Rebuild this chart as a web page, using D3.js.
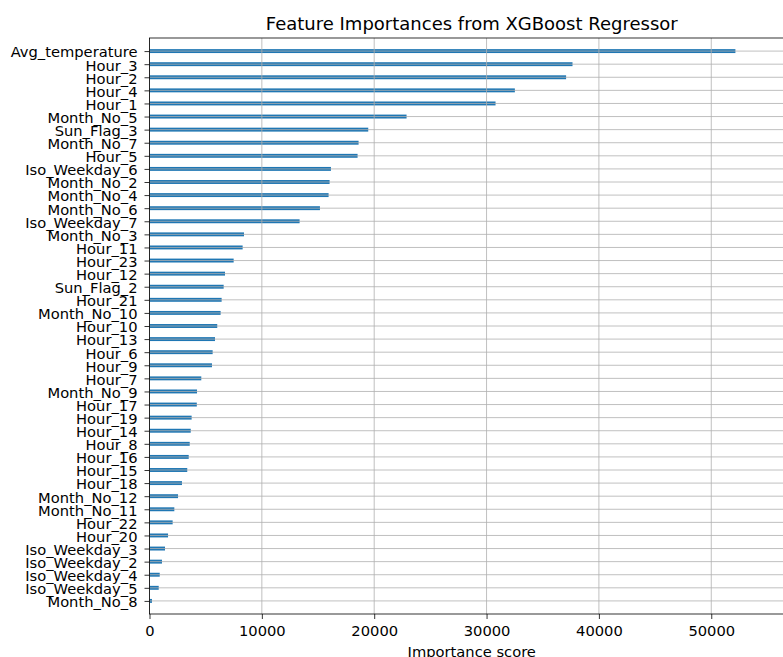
<!DOCTYPE html>
<html>
<head>
<meta charset="utf-8">
<script src="https://cdn.jsdelivr.net/npm/d3@7"></script>
<style>
  html, body { margin: 0; padding: 0; background: #fff; }
  svg { display: block; font-family: "DejaVu Sans", sans-serif; }
</style>
</head>
<body>
<svg id="chart" width="783" height="657"></svg>
<script>
// Feature names, listed from most to least important (top to bottom)
const features = [
  "Avg_temperature", "Hour_3", "Hour_2", "Hour_4", "Hour_1", "Month_No_5",
  "Sun_Flag_3", "Month_No_7", "Hour_5", "Iso_Weekday_6", "Month_No_2",
  "Month_No_4", "Month_No_6", "Iso_Weekday_7", "Month_No_3", "Hour_11",
  "Hour_23", "Hour_12", "Sun_Flag_2", "Hour_21", "Month_No_10", "Hour_10",
  "Hour_13", "Hour_6", "Hour_9", "Hour_7", "Month_No_9", "Hour_17",
  "Hour_19", "Hour_14", "Hour_8", "Hour_16", "Hour_15", "Hour_18",
  "Month_No_12", "Month_No_11", "Hour_22", "Hour_20", "Iso_Weekday_3",
  "Iso_Weekday_2", "Iso_Weekday_4", "Iso_Weekday_5", "Month_No_8"
];

// Importance score of each feature, same order
const scores = [
  52150, 37650, 37080, 32520, 30800, 22880,
  19470, 18610, 18520, 16150, 16030,
  15940, 15170, 13360, 8410, 8290,
  7490, 6720, 6600, 6420, 6330, 6030,
  5830, 5620, 5560, 4610, 4230, 4210,
  3750, 3670, 3580, 3490, 3360, 2890,
  2540, 2210, 2060, 1650, 1380,
  1110, 910, 820, 220
];

const xTicks = [0, 10000, 20000, 30000, 40000, 50000];

const title = "Feature Importances from XGBoost Regressor";
const xLabel = "Importance score";

const svg = d3.select("#chart");
const plotLeft = 149.5, plotTop = 38, plotBottom = 614;
const xMax = d3.max(scores) * 1.1;
const plotRight = plotLeft + 644.5;
const n = features.length;
const tickFont = 14.7;

const x = d3.scaleLinear().domain([0, xMax]).range([plotLeft, plotRight]);
// index 0 sits at the top; the axis spans one empty slot above and below
const y = d3.scaleLinear().domain([-1, n]).range([plotTop, plotBottom]);
const barH = 0.3;

const gridColor = "#b0b0b0";

// Bars
svg.append("g").selectAll("rect")
  .data(scores)
  .join("rect")
  .attr("x", x(0))
  .attr("y", (d, i) => y(i - barH / 2))
  .attr("width", d => x(d) - x(0))
  .attr("height", (d, i) => y(i + barH / 2) - y(i - barH / 2))
  .attr("fill", "#1f77b4");

// Grid lines (drawn over the bars)
const grid = svg.append("g").attr("stroke", gridColor).attr("stroke-width", 0.8);
grid.selectAll("line.gx").data(xTicks).join("line")
  .attr("class", "gx")
  .attr("x1", d => x(d)).attr("x2", d => x(d))
  .attr("y1", plotTop).attr("y2", plotBottom);
grid.selectAll("line.gy").data(features).join("line")
  .attr("class", "gy")
  .attr("x1", plotLeft).attr("x2", plotRight)
  .attr("y1", (d, i) => y(i)).attr("y2", (d, i) => y(i));

// X axis
const xAxis = d3.axisBottom(x).tickValues(xTicks).tickFormat(d3.format("d"))
  .tickSize(5).tickPadding(6.5);
const gx = svg.append("g").attr("transform", `translate(0,${plotBottom})`).call(xAxis);
gx.select(".domain").remove();
gx.selectAll("line").attr("stroke", "#000").attr("stroke-width", 0.8);
gx.selectAll("text").attr("font-size", tickFont).attr("fill", "#000")
  .attr("font-family", "DejaVu Sans, sans-serif");

// Y axis
const yAxis = d3.axisLeft(y).tickValues(d3.range(n)).tickFormat(i => features[i])
  .tickSize(5).tickPadding(7);
const gy = svg.append("g").attr("transform", `translate(${plotLeft},0)`).call(yAxis);
gy.select(".domain").remove();
gy.selectAll("line").attr("stroke", "#000").attr("stroke-width", 0.8);
gy.selectAll("text").attr("font-size", tickFont).attr("fill", "#000")
  .attr("dy", "0.4em")
  .attr("font-family", "DejaVu Sans, sans-serif");

// Frame
svg.append("rect")
  .attr("x", plotLeft).attr("y", plotTop)
  .attr("width", plotRight - plotLeft).attr("height", plotBottom - plotTop)
  .attr("fill", "none").attr("stroke", "#000").attr("stroke-width", 0.8);

// Title and axis label
svg.append("text")
  .attr("x", (plotLeft + plotRight) / 2).attr("y", 30)
  .attr("text-anchor", "middle").attr("font-size", 18).attr("fill", "#000")
  .text(title);

svg.append("text")
  .attr("x", (plotLeft + plotRight) / 2).attr("y", 656.5)
  .attr("text-anchor", "middle").attr("font-size", tickFont).attr("fill", "#000")
  .text(xLabel);
</script>
</body>
</html>
